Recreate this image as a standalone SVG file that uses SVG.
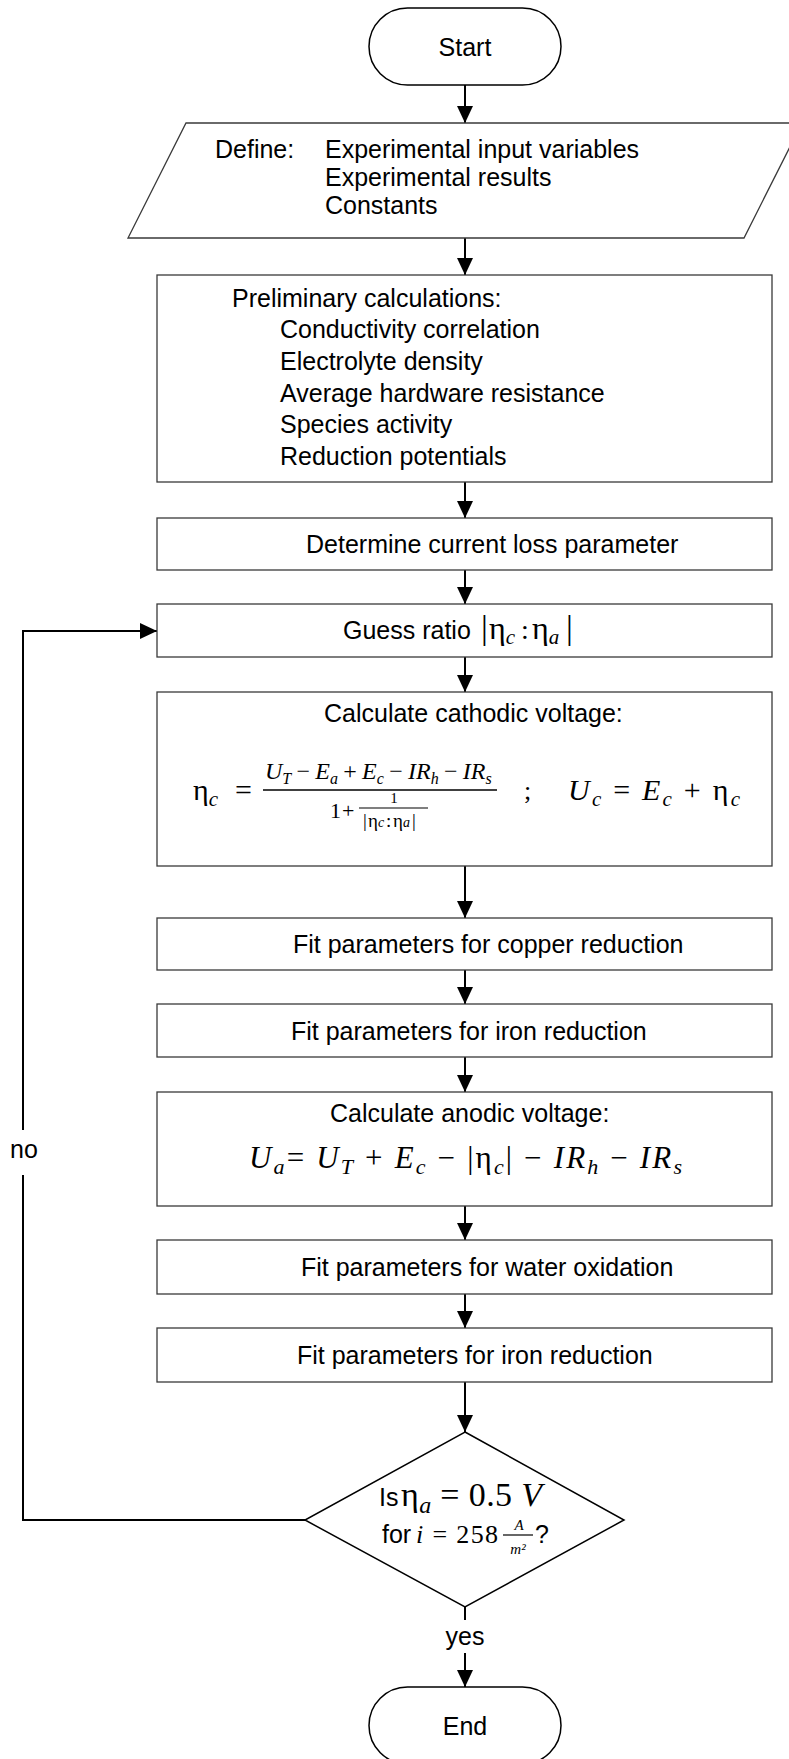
<svg xmlns="http://www.w3.org/2000/svg" width="789" height="1759" viewBox="0 0 789 1759">
<defs>
<style>
.box{fill:#fff;stroke:#3a3a3a;stroke-width:1.3}
.term{fill:#fff;stroke:#000;stroke-width:1.5}
.t{font-family:"Liberation Sans",Arial,sans-serif;font-size:25px;fill:#000}
.m{font-family:"Liberation Serif","Times New Roman",serif;fill:#000}
.i{font-style:italic}
.con{fill:none;stroke:#000;stroke-width:2}
</style>
<marker id="ah" markerUnits="userSpaceOnUse" viewBox="0 0 17 16" refX="17" refY="8" markerWidth="17" markerHeight="16" orient="auto">
<path d="M0,0 L17,8 L0,16 Z" fill="#000"/>
</marker>
</defs>
<rect width="789" height="1759" fill="#fff"/>

<g id="connectors">
<line class="con" x1="465" y1="85" x2="465" y2="123" marker-end="url(#ah)"/>
<line class="con" x1="465" y1="238" x2="465" y2="275" marker-end="url(#ah)"/>
<line class="con" x1="465" y1="482" x2="465" y2="518" marker-end="url(#ah)"/>
<line class="con" x1="465" y1="570" x2="465" y2="604" marker-end="url(#ah)"/>
<line class="con" x1="465" y1="657" x2="465" y2="692" marker-end="url(#ah)"/>
<line class="con" x1="465" y1="866" x2="465" y2="918" marker-end="url(#ah)"/>
<line class="con" x1="465" y1="970" x2="465" y2="1004" marker-end="url(#ah)"/>
<line class="con" x1="465" y1="1057" x2="465" y2="1092" marker-end="url(#ah)"/>
<line class="con" x1="465" y1="1206" x2="465" y2="1240" marker-end="url(#ah)"/>
<line class="con" x1="465" y1="1294" x2="465" y2="1328" marker-end="url(#ah)"/>
<line class="con" x1="465" y1="1382" x2="465" y2="1432" marker-end="url(#ah)"/>
<line class="con" x1="465" y1="1607" x2="465" y2="1620"/>
<line class="con" x1="465" y1="1653" x2="465" y2="1687" marker-end="url(#ah)"/>
<path class="con" d="M305,1520 H23 V1175"/>
<path class="con" d="M23,1130 V631 H157" marker-end="url(#ah)"/>
<text class="t" x="24" y="1158" text-anchor="middle" font-size="24">no</text>
<text class="t" x="465" y="1645" text-anchor="middle" font-size="24">yes</text>
</g>

<g id="start">
<rect class="term" x="369" y="8" width="192" height="77" rx="38.5" ry="38.5"/>
<text class="t" x="465" y="56" text-anchor="middle">Start</text>
</g>

<g id="define">
<polygon class="box" points="186,123 802,123 744,238 128,238"/>
<text class="t" x="215" y="158">Define:</text>
<text class="t" x="325" y="158">Experimental input variables</text>
<text class="t" x="325" y="186">Experimental results</text>
<text class="t" x="325" y="214">Constants</text>
</g>

<g id="preliminary">
<rect class="box" x="157" y="275" width="615" height="207"/>
<text class="t" x="232" y="307">Preliminary calculations:</text>
<text class="t" x="280" y="338">Conductivity correlation</text>
<text class="t" x="280" y="370">Electrolyte density</text>
<text class="t" x="280" y="402">Average hardware resistance</text>
<text class="t" x="280" y="433">Species activity</text>
<text class="t" x="280" y="465">Reduction potentials</text>
</g>

<g id="currentloss">
<rect class="box" x="157" y="518" width="615" height="52"/>
<text class="t" x="306" y="553">Determine current loss parameter</text>
</g>

<g id="guess">
<rect class="box" x="157" y="604" width="615" height="53"/>
<text class="t" x="343" y="639">Guess ratio</text>
<text class="m" y="639" font-size="32"><tspan x="481" font-size="34">|</tspan><tspan x="489">η</tspan><tspan class="i" font-size="21" dy="5">c</tspan><tspan x="521" dy="-5" font-size="28">:</tspan><tspan x="532">η</tspan><tspan class="i" font-size="21" dy="5">a</tspan><tspan x="566" font-size="34" dy="-5">|</tspan></text>
</g>

<g id="cathodic">
<rect class="box" x="157" y="692" width="615" height="174"/>
<text class="t" x="324" y="722">Calculate cathodic voltage:</text>
<text class="m" x="193" y="800" font-size="30">η<tspan class="i" font-size="21" dy="6">c</tspan></text>
<text class="m" x="235" y="800" font-size="30">=</text>
<text class="m" y="779" font-size="24"><tspan class="i" x="265">U</tspan><tspan class="i" font-size="16" dy="5">T</tspan><tspan x="296.5" dy="-5">−</tspan><tspan class="i" x="315.3">E</tspan><tspan class="i" font-size="16" dy="5">a</tspan><tspan x="343.3" dy="-5">+</tspan><tspan class="i" x="362.1">E</tspan><tspan class="i" font-size="16" dy="5">c</tspan><tspan x="389.2" dy="-5">−</tspan><tspan class="i" x="408">IR</tspan><tspan class="i" font-size="16" dy="5">h</tspan><tspan x="444" dy="-5">−</tspan><tspan class="i" x="462.8">IR</tspan><tspan class="i" font-size="16" dy="5">s</tspan></text>
<line x1="263" y1="790" x2="497" y2="790" stroke="#000" stroke-width="1.3"/>
<text class="m" y="818" font-size="22"><tspan x="330">1</tspan><tspan x="342">+</tspan></text>
<text class="m" x="394" y="803" font-size="15" text-anchor="middle">1</text>
<line x1="359" y1="808" x2="428" y2="808" stroke="#000" stroke-width="1.2"/>
<text class="m" y="827" font-size="19"><tspan x="363">|</tspan><tspan x="368">η</tspan><tspan class="i" font-size="14" x="378">c</tspan><tspan x="386">:</tspan><tspan x="393">η</tspan><tspan class="i" font-size="14" x="403">a</tspan><tspan x="412">|</tspan></text>
<text class="m" x="524" y="799" font-size="26">;</text>
<text class="m" x="568" y="800" font-size="30" textLength="172"><tspan class="i">U</tspan><tspan class="i" font-size="21" dy="6">c</tspan><tspan dy="-6"> = </tspan><tspan class="i">E</tspan><tspan class="i" font-size="21" dy="6">c</tspan><tspan dy="-6"> + η</tspan><tspan class="i" font-size="21" dy="6">c</tspan></text>
</g>

<g id="copper">
<rect class="box" x="157" y="918" width="615" height="52"/>
<text class="t" x="293" y="953">Fit parameters for copper reduction</text>
</g>

<g id="iron1">
<rect class="box" x="157" y="1004" width="615" height="53"/>
<text class="t" x="291" y="1040">Fit parameters for iron reduction</text>
</g>

<g id="anodic">
<rect class="box" x="157" y="1092" width="615" height="114"/>
<text class="t" x="330" y="1122">Calculate anodic voltage:</text>
<text class="m" x="249" y="1168" font-size="31" textLength="433"><tspan class="i">U</tspan><tspan class="i" font-size="22" dy="6">a</tspan><tspan dy="-6">= </tspan><tspan class="i">U</tspan><tspan class="i" font-size="22" dy="6">T</tspan><tspan dy="-6"> + </tspan><tspan class="i">E</tspan><tspan class="i" font-size="22" dy="6">c</tspan><tspan dy="-6"> − |η</tspan><tspan class="i" font-size="22" dy="6">c</tspan><tspan dy="-6">| − </tspan><tspan class="i">IR</tspan><tspan class="i" font-size="22" dy="6">h</tspan><tspan dy="-6"> − </tspan><tspan class="i">IR</tspan><tspan class="i" font-size="22" dy="6">s</tspan></text>
</g>

<g id="water">
<rect class="box" x="157" y="1240" width="615" height="54"/>
<text class="t" x="301" y="1276">Fit parameters for water oxidation</text>
</g>

<g id="iron2">
<rect class="box" x="157" y="1328" width="615" height="54"/>
<text class="t" x="297" y="1364">Fit parameters for iron reduction</text>
</g>

<g id="decision">
<polygon class="term" points="465,1432 624,1520 465,1607 305,1520"/>
<text class="t" x="379" y="1506" font-size="17">Is</text>
<text class="m" x="401" y="1506" font-size="34" textLength="141">η<tspan class="i" font-size="24" dy="7">a</tspan><tspan dy="-7"> = 0.5 </tspan><tspan class="i">V</tspan></text>
<text class="t" x="382" y="1543" font-size="23">for</text>
<text class="m" x="416" y="1543" font-size="26" textLength="82"><tspan class="i">i</tspan> = 258</text>
<text class="m i" x="519" y="1530" font-size="15" text-anchor="middle">A</text>
<line x1="503" y1="1535" x2="533" y2="1535" stroke="#000" stroke-width="1.2"/>
<text class="m i" x="518" y="1554" font-size="15" text-anchor="middle">m²</text>
<text class="t" x="535" y="1543" font-size="23">?</text>
</g>

<g id="end">
<rect class="term" x="369" y="1687" width="192" height="77" rx="38.5" ry="38.5"/>
<text class="t" x="465" y="1735" text-anchor="middle">End</text>
</g>
</svg>
